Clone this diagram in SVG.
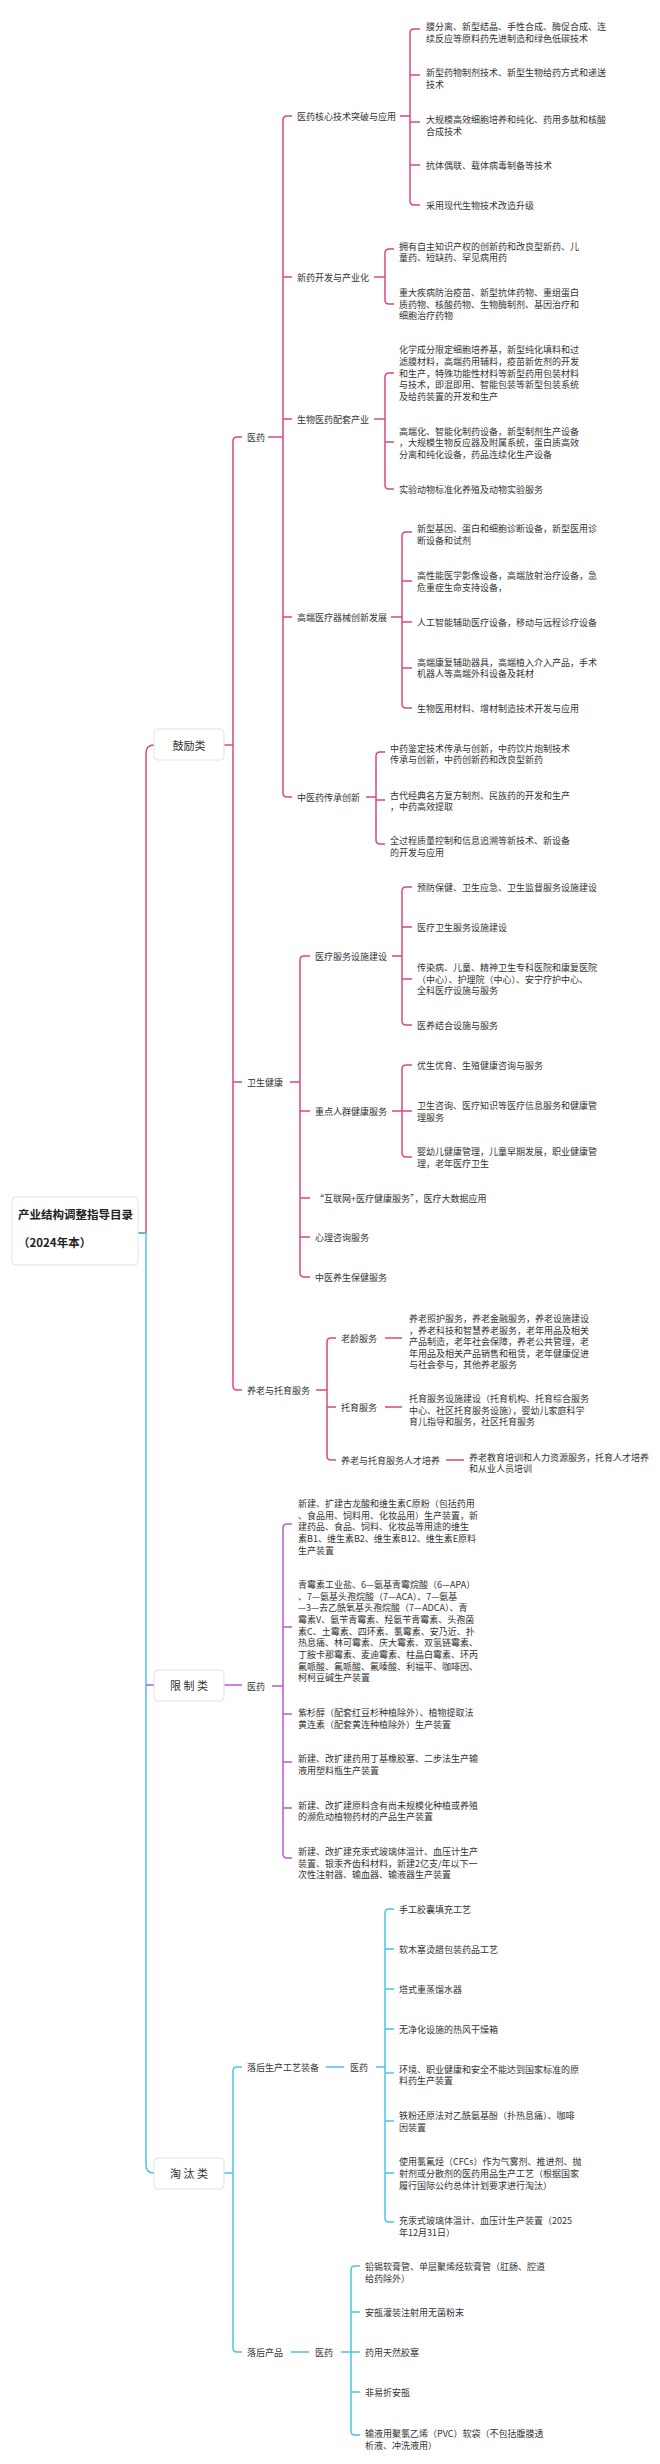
<svg xmlns="http://www.w3.org/2000/svg" width="660" height="2464" viewBox="0 0 660 2464">
<style>
text{font-family:"Noto Sans CJK SC","Liberation Sans",sans-serif;fill:#333;dominant-baseline:central}
.t{font-size:9px}
.b{font-size:11px}
.h{font-size:11.5px;font-weight:bold;fill:#222}
.box{fill:#fff;stroke:#e2e2e2;stroke-width:1}
.p{fill:none;stroke:#d9487d;stroke-width:1.5}
.v{fill:none;stroke:#b85ad6;stroke-width:1.5}
.c{fill:none;stroke:#4cc4e4;stroke-width:1.5}
</style>
<rect width="660" height="2464" fill="#fff"/>
<g id="connectors">
<path class="p" d="M138,1233H146V753Q146,745 154,745"/>
<path class="c" d="M138,1233H146V2165Q146,2173 154,2173"/>
<path class="v" d="M146,1685H154"/>
<!-- 鼓励类 -->
<path class="p" d="M224,745H233M242,437H237Q233,437 233,441V1386Q233,1390 237,1390H242M233,1082H242"/>
<path class="p" d="M268,437H283M292,116H287Q283,116 283,120V793Q283,797 287,797H292M283,277H292M283,419H292M283,617H292"/>
<path class="p" d="M400,116H410M420,29H414Q410,29 410,33V201Q410,205 414,205H420M410,75H420M410,122H420M410,165H420"/>
<path class="p" d="M374,277H385M394,249H389Q385,249 385,253V300Q385,304 389,304H394"/>
<path class="p" d="M374,419H385M394,373H389Q385,373 385,377V485Q385,489 389,489H394M385,442H394"/>
<path class="p" d="M391,617H402M412,532H406Q402,532 402,536V704Q402,708 406,708H412M402,581H412M402,622H412M402,668H412"/>
<path class="p" d="M366,797H376M385,752H380Q376,752 376,756V840Q376,844 380,844H385M376,800H385"/>
<path class="p" d="M290,1082H300M310,956H304Q300,956 300,960V1273Q300,1277 304,1277H310M300,1111H310M300,1198H310M300,1237H310"/>
<path class="p" d="M392,956H402M412,887H406Q402,887 402,891V1021Q402,1025 406,1025H412M402,927H412M402,979H412"/>
<path class="p" d="M392,1111H402M412,1065H406Q402,1065 402,1069V1153Q402,1157 406,1157H412M402,1111H412"/>
<path class="p" d="M316,1390H327M336,1338H331Q327,1338 327,1342V1456Q327,1460 331,1460H336M327,1407H336"/>
<path class="p" d="M385,1338H402M385,1407H402M446,1460H464"/>
<!-- 限制类 -->
<path class="v" d="M224,1685H242M272,1686H283M292,1524H287Q283,1524 283,1528V1854Q283,1858 287,1858H292M283,1627H292M283,1714H292M283,1762H292M283,1808H292"/>
<!-- 淘汰类 -->
<path class="c" d="M224,2173H233M242,2067H237Q233,2067 233,2071V2348Q233,2352 237,2352H242"/>
<path class="c" d="M326,2067H344M376,2067H385M394,1909H389Q385,1909 385,1913V2218Q385,2222 389,2222H394M385,1949H394M385,1989H394M385,2029H394M385,2073H394M385,2121H394M385,2173H394"/>
<path class="c" d="M291,2352H309M341,2352H351M360,2266H355Q351,2266 351,2270V2431Q351,2435 355,2435H360M351,2312H360M351,2352H360M351,2392H360"/>
</g>
<g id="root"><rect class="box" x="12" y="1197" width="126" height="68" rx="4"/><text class="h" x="18" y="1214">产业结构调整指导目录</text><text class="h" x="18" y="1242">（2024年本）</text></g>
<g id="n-encourage"><rect class="box" x="154" y="729" width="70" height="31" rx="4"/><text class="b" x="189" y="745" text-anchor="middle">鼓励类</text></g>
<g id="n-limit"><rect class="box" x="154" y="1670" width="70" height="31" rx="4"/><text class="b" x="189" y="1685" text-anchor="middle">限 制 类</text></g>
<g id="n-eliminate"><rect class="box" x="154" y="2158" width="70" height="31" rx="4"/><text class="b" x="189" y="2173" text-anchor="middle">淘 汰 类</text></g>
<g id="encourage-items" class="t">
<text class="t" x="247" y="437">医药</text>
<text class="t" x="297" y="116">医药核心技术突破与应用</text>
<text class="t" x="426" y="26">膜分离、新型结晶、手性合成、酶促合成、连</text>
<text class="t" x="426" y="38">续反应等原料药先进制造和绿色低碳技术</text>
<text class="t" x="426" y="72">新型药物制剂技术、新型生物给药方式和递送</text>
<text class="t" x="426" y="84">技术</text>
<text class="t" x="426" y="119">大规模高效细胞培养和纯化、药用多肽和核酸</text>
<text class="t" x="426" y="131">合成技术</text>
<text class="t" x="426" y="165">抗体偶联、载体病毒制备等技术</text>
<text class="t" x="426" y="205">采用现代生物技术改造升级</text>
<text class="t" x="297" y="277">新药开发与产业化</text>
<text class="t" x="399" y="246">拥有自主知识产权的创新药和改良型新药、儿</text>
<text class="t" x="399" y="257">童药、短缺药、罕见病用药</text>
<text class="t" x="399" y="292">重大疾病防治疫苗、新型抗体药物、重组蛋白</text>
<text class="t" x="399" y="304">质药物、核酸药物、生物酶制剂、基因治疗和</text>
<text class="t" x="399" y="315">细胞治疗药物</text>
<text class="t" x="297" y="419">生物医药配套产业</text>
<text class="t" x="399" y="349">化学成分限定细胞培养基，新型纯化填料和过</text>
<text class="t" x="399" y="361">滤膜材料，高端药用辅料，疫苗新佐剂的开发</text>
<text class="t" x="399" y="373">和生产，特殊功能性材料等新型药用包装材料</text>
<text class="t" x="399" y="384">与技术，即混即用、智能包装等新型包装系统</text>
<text class="t" x="399" y="396">及给药装置的开发和生产</text>
<text class="t" x="399" y="431">高端化、智能化制药设备，新型制剂生产设备</text>
<text class="t" x="399" y="442">，大规模生物反应器及附属系统，蛋白质高效</text>
<text class="t" x="399" y="454">分离和纯化设备，药品连续化生产设备</text>
<text class="t" x="399" y="489">实验动物标准化养殖及动物实验服务</text>
<text class="t" x="297" y="617">高端医疗器械创新发展</text>
<text class="t" x="417" y="528">新型基因、蛋白和细胞诊断设备，新型医用诊</text>
<text class="t" x="417" y="540">断设备和试剂</text>
<text class="t" x="417" y="575">高性能医学影像设备，高端放射治疗设备，急</text>
<text class="t" x="417" y="587">危重症生命支持设备，</text>
<text class="t" x="417" y="622">人工智能辅助医疗设备，移动与远程诊疗设备</text>
<text class="t" x="417" y="662">高端康复辅助器具，高端植入介入产品，手术</text>
<text class="t" x="417" y="673">机器人等高端外科设备及耗材</text>
<text class="t" x="417" y="708">生物医用材料、增材制造技术开发与应用</text>
<text class="t" x="297" y="797">中医药传承创新</text>
<text class="t" x="390" y="748">中药鉴定技术传承与创新，中药饮片炮制技术</text>
<text class="t" x="390" y="759">传承与创新，中药创新药和改良型新药</text>
<text class="t" x="390" y="795">古代经典名方复方制剂、民族药的开发和生产</text>
<text class="t" x="390" y="806">，中药高效提取</text>
<text class="t" x="390" y="840">全过程质量控制和信息追溯等新技术、新设备</text>
<text class="t" x="390" y="852">的开发与应用</text>
<text class="t" x="247" y="1082">卫生健康</text>
<text class="t" x="315" y="956">医疗服务设施建设</text>
<text class="t" x="417" y="887">预防保健、卫生应急、卫生监督服务设施建设</text>
<text class="t" x="417" y="927">医疗卫生服务设施建设</text>
<text class="t" x="417" y="967">传染病、儿童、精神卫生专科医院和康复医院</text>
<text class="t" x="417" y="979">（中心）、护理院（中心）、安宁疗护中心、</text>
<text class="t" x="417" y="990">全科医疗设施与服务</text>
<text class="t" x="417" y="1025">医养结合设施与服务</text>
<text class="t" x="315" y="1111">重点人群健康服务</text>
<text class="t" x="417" y="1065">优生优育、生殖健康咨询与服务</text>
<text class="t" x="417" y="1105">卫生咨询、医疗知识等医疗信息服务和健康管</text>
<text class="t" x="417" y="1117">理服务</text>
<text class="t" x="417" y="1151">婴幼儿健康管理，儿童早期发展，职业健康管</text>
<text class="t" x="417" y="1163">理，老年医疗卫生</text>
<text class="t" x="315" y="1198">“互联网+医疗健康服务”，医疗大数据应用</text>
<text class="t" x="315" y="1237">心理咨询服务</text>
<text class="t" x="315" y="1277">中医养生保健服务</text>
<text class="t" x="247" y="1390">养老与托育服务</text>
<text class="t" x="341" y="1338">老龄服务</text>
<text class="t" x="409" y="1318">养老照护服务，养老金融服务，养老设施建设</text>
<text class="t" x="409" y="1330">，养老科技和智慧养老服务，老年用品及相关</text>
<text class="t" x="409" y="1341">产品制造，老年社会保障，养老公共管理，老</text>
<text class="t" x="409" y="1353">年用品及相关产品销售和租赁，老年健康促进</text>
<text class="t" x="409" y="1364">与社会参与，其他养老服务</text>
<text class="t" x="341" y="1407">托育服务</text>
<text class="t" x="409" y="1398">托育服务设施建设（托育机构、托育综合服务</text>
<text class="t" x="409" y="1410">中心、社区托育服务设施），婴幼儿家庭科学</text>
<text class="t" x="409" y="1421">育儿指导和服务，社区托育服务</text>
<text class="t" x="341" y="1460">养老与托育服务人才培养</text>
<text class="t" x="469" y="1457">养老教育培训和人力资源服务，托育人才培养</text>
<text class="t" x="469" y="1468">和从业人员培训</text>
</g>
<g id="limit-items">
<text class="t" x="247" y="1686">医药</text>
<text class="t" x="298" y="1503">新建、扩建古龙酸和维生素C原粉（包括药用</text>
<text class="t" x="298" y="1515">、食品用、饲料用、化妆品用）生产装置，新</text>
<text class="t" x="298" y="1526">建药品、食品、饲料、化妆品等用途的维生</text>
<text class="t" x="298" y="1538">素B1、维生素B2、维生素B12、维生素E原料</text>
<text class="t" x="298" y="1550">生产装置</text>
<text class="t" x="298" y="1584">青霉素工业盐、6—氨基青霉烷酸（6—APA）</text>
<text class="t" x="298" y="1596">、7—氨基头孢烷酸（7—ACA）、7—氨基</text>
<text class="t" x="298" y="1607">—3—去乙酰氧基头孢烷酸（7—ADCA）、青</text>
<text class="t" x="298" y="1619">霉素V、氨苄青霉素、羟氨苄青霉素、头孢菌</text>
<text class="t" x="298" y="1631">素C、土霉素、四环素、氯霉素、安乃近、扑</text>
<text class="t" x="298" y="1642">热息痛、林可霉素、庆大霉素、双氢链霉素、</text>
<text class="t" x="298" y="1654">丁胺卡那霉素、麦迪霉素、柱晶白霉素、环丙</text>
<text class="t" x="298" y="1666">氟哌酸、氟哌酸、氟嗪酸、利福平、咖啡因、</text>
<text class="t" x="298" y="1677">柯柯豆碱生产装置</text>
<text class="t" x="298" y="1712">紫杉醇（配套红豆杉种植除外）、植物提取法</text>
<text class="t" x="298" y="1724">黄连素（配套黄连种植除外）生产装置</text>
<text class="t" x="298" y="1758">新建、改扩建药用丁基橡胶塞、二步法生产输</text>
<text class="t" x="298" y="1770">液用塑料瓶生产装置</text>
<text class="t" x="298" y="1805">新建、改扩建原料含有尚未规模化种植或养殖</text>
<text class="t" x="298" y="1816">的濒危动植物药材的产品生产装置</text>
<text class="t" x="298" y="1851">新建、改扩建充汞式玻璃体温计、血压计生产</text>
<text class="t" x="298" y="1863">装置、银汞齐齿科材料，新建2亿支/年以下一</text>
<text class="t" x="298" y="1874">次性注射器、输血器、输液器生产装置</text>
</g>
<g id="eliminate-items">
<text class="t" x="247" y="2067">落后生产工艺装备</text>
<text class="t" x="350" y="2067">医药</text>
<text class="t" x="399" y="1909">手工胶囊填充工艺</text>
<text class="t" x="399" y="1949">软木塞烫腊包装药品工艺</text>
<text class="t" x="399" y="1989">塔式重蒸馏水器</text>
<text class="t" x="399" y="2029">无净化设施的热风干燥箱</text>
<text class="t" x="399" y="2069">环境、职业健康和安全不能达到国家标准的原</text>
<text class="t" x="399" y="2080">料药生产装置</text>
<text class="t" x="399" y="2115">铁粉还原法对乙酰氨基酚（扑热息痛）、咖啡</text>
<text class="t" x="399" y="2127">因装置</text>
<text class="t" x="399" y="2161">使用氯氟烃（CFCs）作为气雾剂、推进剂、抛</text>
<text class="t" x="399" y="2173">射剂或分散剂的医药用品生产工艺（根据国家</text>
<text class="t" x="399" y="2185">履行国际公约总体计划要求进行淘汰）</text>
<text class="t" x="399" y="2220">充汞式玻璃体温计、血压计生产装置（2025</text>
<text class="t" x="399" y="2232">年12月31日）</text>
<text class="t" x="247" y="2352">落后产品</text>
<text class="t" x="315" y="2352">医药</text>
<text class="t" x="365" y="2266">铅锡软膏管、单层聚烯烃软膏管（肛肠、腔道</text>
<text class="t" x="365" y="2278">给药除外）</text>
<text class="t" x="365" y="2312">安瓿灌装注射用无菌粉末</text>
<text class="t" x="365" y="2352">药用天然胶塞</text>
<text class="t" x="365" y="2392">非易折安瓿</text>
<text class="t" x="365" y="2433">输液用聚氯乙烯（PVC）软袋（不包括腹膜透</text>
<text class="t" x="365" y="2445">析液、冲洗液用）</text>
</g>
</svg>
